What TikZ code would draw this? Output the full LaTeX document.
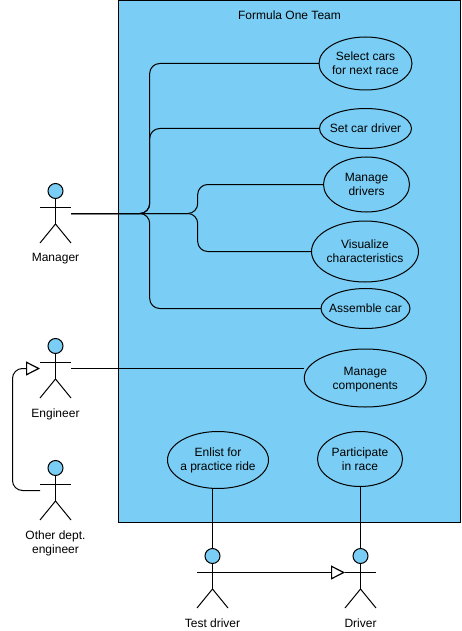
\documentclass[tikz,border=0pt]{standalone}
\usepackage{fontspec}
\setmainfont{Liberation Sans}
\usepackage{xcolor}
\usepackage{tikz}
\usetikzlibrary{shapes.geometric,positioning,arrows.meta}
\definecolor{teamblue}{HTML}{7ACEF5}
\tikzset{usecase/.style 2 args={ellipse,draw,fill=teamblue,inner sep=0pt,outer sep=0pt,
           minimum width=#1*0.75pt,minimum height=#2*0.75pt},
         every label/.style={align=center,inner sep=0pt},
         head/.style={circle,draw,fill=teamblue,inner sep=0pt,outer sep=0pt,minimum size=11.25pt},
         actorlabel/.style={anchor=north,align=center,inner sep=0pt},
         link/.style={draw,rounded corners=7.5pt},
         general/.style={draw,rounded corners=7.5pt,
           -{Triangle[open,fill=white,length=10.5pt,width=10.5pt,line width=0.9pt]}}}
% head centre x, y, name, text
\newcommand{\actor}[4]{
  \node[head] (#3) at (#1,#2) {};
  \draw (#1-15.5,#2+16) -- (#1+15.5,#2+16);
  \draw (#3.south) -- (#1,#2+33);
  \draw (#1-15.5,#2+52) -- (#1,#2+33) -- (#1+15.5,#2+52);
  \coordinate (#3arml) at (#1-15.5,#2+16.5);
  \coordinate (#3armr) at (#1+15.5,#2+16.5);
  \coordinate (#3l) at (#1-15.5,#2+22.5);
  \coordinate (#3r) at (#1+15.5,#2+22.5);
  \node[actorlabel] (#3text) at (#1,#2+62) {#4};
}
\begin{document}
\begin{tikzpicture}[x=0.75pt,y=-0.75pt,line width=0.75pt,
    font=\fontsize{9}{10.5}\selectfont]
  \useasboundingbox (0,0) rectangle (461,631);
  \node[draw,fill=teamblue,minimum width=341.75*0.75pt,minimum height=522*0.75pt,
    inner sep=0pt,outer sep=0pt,anchor=north west] (team) at (118.5,0.5) {};
  \node (teamtext) at (289.5,15) {Formula One Team};
  % use cases
  \node[usecase={93}{53},label=center:{Select cars\\for next race}] (select) at (365.5,63.5) {};
  \node[usecase={92}{40},label=center:{Set car driver}] (setdriver) at (365.5,128.5) {};
  \node[usecase={86}{55},label=center:{Manage\\drivers}] (drivers) at (366.5,184.5) {};
  \node[usecase={107}{61},label=center:{Visualize\\characteristics}] (visualize) at (365,251.5) {};
  \node[usecase={89}{40},label=center:{Assemble car}] (assemble) at (365.5,308.5) {};
  \node[usecase={122}{58},label={[yshift=-1.2pt]center:{Manage\\components}}] (components) at (365.3,378) {};
  \node[usecase={101}{57},label=center:{Enlist for\\a practice ride}] (enlist) at (218,460) {};
  \node[usecase={85}{55},label=center:{Participate\\in race}] (race) at (360,459) {};
  % actors
  \actor{55.5}{191}{manager}{Manager}
  \actor{55.5}{346}{engineer}{Engineer}
  \actor{55.5}{468}{other}{Other dept.\\engineer}
  \actor{212.5}{556}{test}{Test driver}
  \actor{360.5}{556}{driver}{Driver}
  % connectors
  \coordinate (trunk) at (149.7,213.5);
  \coordinate (branch) at (197.7,213.5);
  \coordinate (bend) at (12.5,490.5);
  \draw[link] (managerr) -- (trunk) |- (select.west);
  \draw[link] (managerr) -- (trunk) |- (setdriver.west);
  \draw[link] (managerr) -- (trunk) |- (assemble.west);
  \draw[link] (managerr) -- (branch) |- (drivers.west);
  \draw[link] (managerr) -- (branch) |- (visualize.west);
  \draw (engineerr) -- (engineerr -| components.west);
  \draw (enlist.south -| test) -- (test.north);
  \draw (race.south -| driver) -- (driver.north);
  \draw[general] (otherl) -- (bend) |- (engineerl);
  \draw[general] (testarmr) -- (driverarml);
\end{tikzpicture}
\end{document}
